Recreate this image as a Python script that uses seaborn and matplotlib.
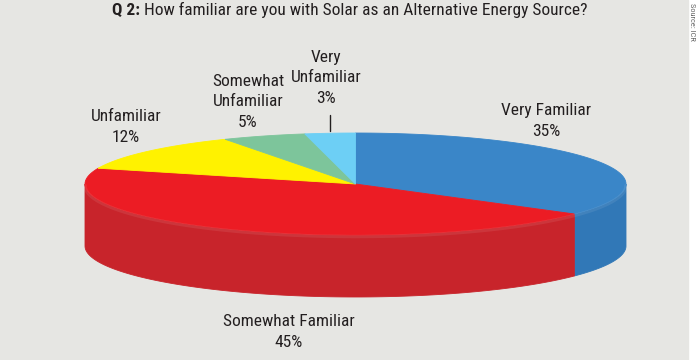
import numpy as np
import matplotlib
matplotlib.use("Agg")
import matplotlib.pyplot as plt
import seaborn as sns
from matplotlib import font_manager
from matplotlib.patches import Rectangle

# data
categories = ["Very Familiar", "Somewhat Familiar", "Unfamiliar",
              "Somewhat Unfamiliar", "Very Unfamiliar"]
shares = [35, 45, 12, 5, 3]
label_lines = [["Very Familiar"], ["Somewhat Familiar"], ["Unfamiliar"],
               ["Somewhat", "Unfamiliar"], ["Very", "Unfamiliar"]]
title_bold = "Q 2:"
title_rest = "How familiar are you with Solar as an Alternative Energy Source?"
source_note = "Source: ICR"

# styles / layout
top_colors = ["#3a86c8", "#ec1c24", "#fff200", "#7dc59b", "#6dcff5"]
side_colors = ["#3178b7", "#c8242b", "#d9cc00", "#68a884", "#58b0d2"]
label_pos = [(546, 121), (289, 332), (126, 127), (248, 102), (326, 78)]
leader = [False, False, False, False, True]
bg = "#e6e6e3"
ink = "#231f20"

sns.set_theme(style="white")
names = {f.name for f in font_manager.fontManager.ttflist}
prefs = ["Roboto Condensed", "Archivo Narrow", "Liberation Sans Narrow",
         "Barlow Semi Condensed", "Liberation Sans"]
family = next(p for p in prefs if p in names or p == "Liberation Sans")
plt.rcParams["font.family"] = [family, "DejaVu Sans"]

# pie geometry in pixel units
cx, cy, rx, ry, depth = 355.5, 184.0, 270.5, 51.0, 62.0


def rim(a0, a1, n=120):
    # angles in degrees, clockwise from 12 o'clock
    t = np.radians(np.linspace(a0, a1, n))
    return cx + rx * np.sin(t), cy - ry * np.cos(t)


fig = plt.figure(figsize=(7, 3.6), dpi=100)
fig.patch.set_facecolor("white")
ax = fig.add_axes([0, 0, 1, 1])
ax.set_xlim(0, 700)
ax.set_ylim(360, 0)
ax.axis("off")
ax.add_patch(Rectangle((0, 0), 688, 360, color=bg, zorder=0))

frac = np.array(shares, dtype=float) / sum(shares)
ends = np.cumsum(frac) * 360
starts = ends - frac * 360

# visible side wall (front half, 90..270 deg)
for s, e, c in zip(starts, ends, side_colors):
    lo, hi = max(s, 90), min(e, 270)
    if hi <= lo:
        continue
    x, y = rim(lo, hi)
    xs = np.concatenate([x, x[::-1]])
    ys = np.concatenate([y, (y + depth)[::-1]])
    ax.fill(xs, ys, color=c, lw=0.6, ec=c, zorder=2)

# top face
for s, e, c in zip(starts, ends, top_colors):
    x, y = rim(s, e)
    ax.fill(np.r_[cx, x], np.r_[cy, y], color=c, lw=0.6, ec=c, zorder=3)

# faint highlight on the front rim
x, y = rim(90, 270)
ax.plot(x, y + 1.5, color="white", alpha=0.08, lw=2.5, zorder=4)

# labels
for (lx, ly), lines, v in zip(label_pos, label_lines, shares):
    ax.text(lx, ly, "\n".join(lines + [f"{v}%"]), ha="center", va="center",
            fontsize=12.5, color=ink, linespacing=1.45, zorder=5)

for s, e, flag in zip(starts, ends, leader):
    if flag:
        mid = np.radians((s + e) / 2)
        lx = cx + rx * np.sin(mid)
        ly = cy - ry * np.cos(mid)
        ax.plot([lx, lx], [ly - 2, ly - 18], color=ink, lw=1.0, zorder=5)

# title: bold question number + regular text, centred together
t1 = ax.text(0, 15, title_bold, fontsize=12.5, fontweight="bold", color=ink, va="baseline")
t2 = ax.text(0, 15, title_rest, fontsize=12.5, color=ink, va="baseline")
fig.canvas.draw()
r = fig.canvas.get_renderer()
w1 = t1.get_window_extent(r).width
w2 = t2.get_window_extent(r).width
gap = 4
x0 = 350 - (w1 + gap + w2) / 2
t1.set_x(x0)
t2.set_x(x0 + w1 + gap)

ax.text(692, 3, source_note, rotation=-90, fontsize=6, color="#666666",
        ha="center", va="top")

fig.savefig("out.png", dpi=100, facecolor=fig.get_facecolor())
